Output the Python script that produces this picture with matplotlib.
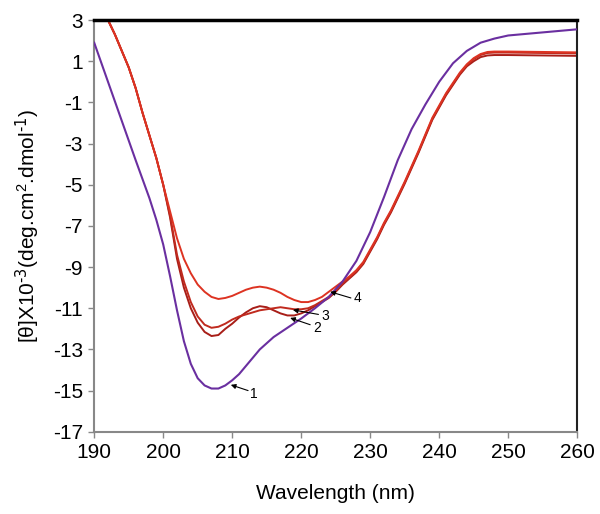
import matplotlib
matplotlib.use("Agg")
import matplotlib.pyplot as plt

plt.rcParams["font.family"] = ["Liberation Sans", "DejaVu Sans"]
plt.rcParams["axes.unicode_minus"] = False
plt.rcParams["mathtext.default"] = "regular"

# Curve 1 (purple)
wl_1 = [190, 192, 194, 196, 198, 199, 200, 201, 202, 203, 204, 205, 206, 207,
        208, 209, 210, 211, 212, 213, 214, 216, 218, 220, 222, 224, 226, 228,
        230, 232, 234, 236, 238, 240, 242, 244, 246, 248, 250, 255, 260]
cd_1 = [1.9, 0.0, -1.9, -3.8, -5.65, -6.7, -7.9, -9.45, -11.1, -12.6, -13.7,
        -14.4, -14.75, -14.9, -14.9, -14.75, -14.5, -14.2, -13.8, -13.4, -13.0,
        -12.4, -11.95, -11.5, -11.0, -10.45, -9.7, -8.7, -7.3, -5.6, -3.8,
        -2.3, -1.1, 0.0, 0.9, 1.5, 1.9, 2.1, 2.25, 2.4, 2.55]

# Curves 2-4 (reds) share the wavelength grid
wl_red = [191, 192, 193, 194, 195, 196, 197, 198, 199, 200, 201, 202, 203,
          204, 205, 206, 207, 208, 209, 210, 211, 212, 213, 214, 215, 216,
          217, 218, 219, 220, 221, 222, 223, 224, 225, 226, 227, 228, 229,
          230, 231, 232, 233, 234, 235, 236, 237, 238, 239, 240, 241, 242,
          243, 244, 245, 246, 247, 248, 250, 255, 260]

cd_2 = [3.8, 3.0, 2.3, 1.5, 0.7, -0.3, -1.5, -2.6, -3.7, -5.0, -6.6, -8.6,
        -10.0, -11.0, -11.7, -12.15, -12.35, -12.3, -12.0, -11.75, -11.45,
        -11.2, -11.0, -10.9, -10.95, -11.1, -11.25, -11.35, -11.35, -11.25,
        -11.1, -10.9, -10.7, -10.5, -10.2, -9.85, -9.55, -9.25, -8.85, -8.25,
        -7.65, -6.95, -6.35, -5.65, -4.95, -4.2, -3.45, -2.65, -1.85, -1.25,
        -0.65, -0.15, 0.35, 0.75, 1.0, 1.2, 1.28, 1.3, 1.3, 1.28, 1.26]

cd_3 = [3.8, 3.0, 2.3, 1.5, 0.7, -0.3, -1.5, -2.6, -3.7, -5.0, -6.5, -8.4,
        -9.7, -10.7, -11.4, -11.8, -11.95, -11.9, -11.75, -11.55, -11.4,
        -11.3, -11.2, -11.1, -11.05, -11.0, -10.95, -11.0, -11.05, -11.05,
        -11.0, -10.85, -10.65, -10.45, -10.15, -9.8, -9.5, -9.2, -8.8, -8.2,
        -7.6, -6.9, -6.3, -5.6, -4.9, -4.15, -3.4, -2.6, -1.8, -1.2, -0.6,
        -0.1, 0.4, 0.8, 1.1, 1.3, 1.4, 1.42, 1.42, 1.4, 1.38]

cd_4 = [3.8, 3.0, 2.3, 1.5, 0.7, -0.3, -1.5, -2.6, -3.7, -5.0, -6.3, -7.6,
        -8.6, -9.3, -9.85, -10.2, -10.45, -10.55, -10.5, -10.4, -10.25,
        -10.1, -10.0, -9.95, -10.0, -10.1, -10.25, -10.45, -10.6, -10.7,
        -10.7, -10.6, -10.45, -10.2, -9.95, -9.7, -9.45, -9.15, -8.75, -8.15,
        -7.55, -6.85, -6.25, -5.55, -4.85, -4.1, -3.35, -2.55, -1.75, -1.15,
        -0.55, -0.05, 0.45, 0.85, 1.15, 1.35, 1.45, 1.47, 1.47, 1.45, 1.43]

X_TICKS = [190, 200, 210, 220, 230, 240, 250, 260]
Y_TICKS = [3, 1, -1, -3, -5, -7, -9, -11, -13, -15, -17]

# label text position, arrow tail, arrow head
LABELS = {
    "1": ((212.6, -15.15), (212.3, -15.0), (209.8, -14.72)),
    "2": ((221.7, -11.95), (221.3, -11.8), (218.4, -11.47)),
    "3": ((223.0, -11.4), (222.5, -11.3), (218.8, -11.08)),
    "4": ((227.6, -10.5), (227.2, -10.5), (224.2, -10.2)),
}

fig = plt.figure(figsize=(6.0, 5.14), dpi=100)
ax = fig.add_axes([0.157, 0.16, 0.805, 0.801])

ax.plot(wl_1, cd_1, color="#6a2fa0", lw=1.5, zorder=3)
ax.plot(wl_red, cd_2, color="#a81e18", lw=1.4)
ax.plot(wl_red, cd_3, color="#c02a1e", lw=1.4)
ax.plot(wl_red, cd_4, color="#dd3322", lw=1.4)

for lab, (txt, tail, head) in LABELS.items():
    ax.annotate("", xy=head, xytext=tail,
                arrowprops=dict(arrowstyle="-|>", color="black", lw=0.8,
                                mutation_scale=7, shrinkA=0, shrinkB=0))
    ax.text(txt[0], txt[1], lab, fontsize=10, ha="left", va="center")

ax.set_xlim(190, 260)
ax.set_ylim(-17, 3)
ax.set_xticks(X_TICKS)
ax.set_yticks(Y_TICKS)
ax.tick_params(axis="both", labelsize=15, length=4, width=1, color="#888888",
               direction="out", pad=4)

ax.spines["top"].set_linewidth(2.5)
ax.spines["top"].set_color("black")
ax.spines["right"].set_linewidth(1.5)
ax.spines["right"].set_color("#222222")
ax.spines["left"].set_color("#888888")
ax.spines["left"].set_linewidth(1.5)
ax.spines["bottom"].set_color("#888888")
ax.spines["bottom"].set_linewidth(1.5)

ax.set_xlabel("Wavelength (nm)", fontsize=15, labelpad=16)
ax.set_ylabel(r"[θ]X10$^{\text{-3}}$(deg.cm$^{2}$.dmol$^{\text{-1}}$)",
              fontsize=15, labelpad=8)

fig.savefig("out.png", dpi=100)
